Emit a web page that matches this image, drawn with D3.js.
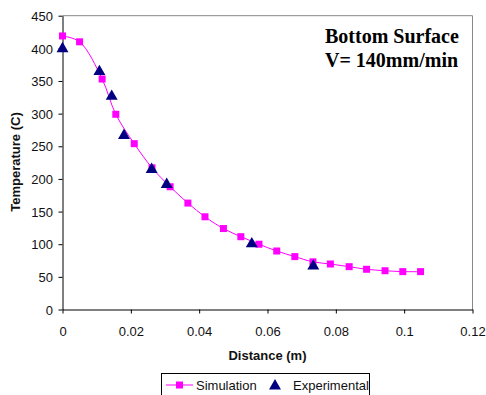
<!DOCTYPE html>
<html><head><meta charset="utf-8">
<script src="https://cdn.jsdelivr.net/npm/d3@7"></script>
<style>body{margin:0;background:#fff}svg{display:block}</style>
</head><body><svg id="c" width="486" height="395"></svg>
<script>
const simX = [0, 0.0050, 0.0116, 0.0156, 0.0210, 0.0262, 0.0315, 0.0367, 0.0417, 0.0471, 0.0522, 0.0575, 0.0627, 0.0680, 0.0733, 0.0784, 0.0839, 0.0890, 0.0944, 0.0996, 0.1048];
const simY = [419, 410, 353, 299, 254, 217, 188, 163, 142, 124, 111.5, 100, 89.6, 81, 73, 69.7, 65.6, 61.6, 59.4, 58, 58];
const expX = [0, 0.0108, 0.0144, 0.0180, 0.0261, 0.0305, 0.0554, 0.0734];
const expY = [401, 366, 328, 268, 216, 193, 102, 68];
const xTicks = [0, 0.02, 0.04, 0.06, 0.08, 0.1, 0.12];
const yTicks = [0, 50, 100, 150, 200, 250, 300, 350, 400, 450];
const seriesNames = ["Simulation", "Experimental"];

const svg = d3.select("#c");
const L = 62.5, R = 472.5, T = 15.7, B = 309.5;
const x = d3.scaleLinear().domain([0, 0.12]).range([L, R]);
const y = d3.scaleLinear().domain([0, 450]).range([B, T]);
const font = "Arial, 'Liberation Sans', sans-serif";

// border top/right
svg.append("path").attr("d", `M${L},${T}H${R}V${B}`).attr("fill", "none").attr("stroke", "#888").attr("stroke-width", 1);

const xa = svg.append("g").attr("transform", `translate(0,${B})`)
  .call(d3.axisBottom(x).tickValues(xTicks).tickSize(4).tickSizeOuter(0).tickFormat(d => d3.format("")(+d.toFixed(2))));
const ya = svg.append("g").attr("transform", `translate(${L},0)`)
  .call(d3.axisLeft(y).tickValues(yTicks).tickSize(4).tickSizeOuter(0));
[xa, ya].forEach(a => {
  a.select(".domain").attr("stroke", "#000");
  a.selectAll(".tick line").attr("stroke", "#000");
  a.selectAll("text").attr("font-family", font).attr("font-size", 13).attr("fill", "#111");
});
xa.selectAll("text").attr("dy", null).attr("y", 26);
ya.selectAll("text").attr("x", -9.5).attr("dy", "0.36em");

// smooth line
const simData = simX.map((d, i) => [d, simY[i]]);
const expData = expX.map((d, i) => [d, expY[i]]);
svg.append("path").datum(simData)
  .attr("d", d3.line().x(d => x(d[0])).y(d => y(d[1])).curve(d3.curveCatmullRom.alpha(0.5)))
  .attr("fill", "none").attr("stroke", "#ff00ff").attr("stroke-width", 1);
svg.append("g").selectAll("rect").data(simData).join("rect")
  .attr("x", d => x(d[0]) - 3.5).attr("y", d => y(d[1]) - 3.5)
  .attr("width", 7).attr("height", 7).attr("fill", "#ff00ff");
const tri = d3.symbol().type(d3.symbolTriangle).size(62);
svg.append("g").selectAll("path").data(expData).join("path")
  .attr("transform", d => `translate(${x(d[0])},${y(d[1]) + 1})`)
  .attr("d", tri).attr("fill", "#000080");

// axis titles
svg.append("text").attr("x", 267.5).attr("y", 360).attr("text-anchor", "middle")
  .attr("font-family", font).attr("font-size", 13).attr("font-weight", "bold").attr("fill", "#111").text("Distance (m)");
svg.append("text").attr("transform", "translate(20,162) rotate(-90)").attr("text-anchor", "middle")
  .attr("font-family", font).attr("font-size", 13).attr("font-weight", "bold").attr("fill", "#111").text("Temperature (C)");

// annotation
const serif = "'Times New Roman', 'Liberation Serif', serif";
svg.append("text").attr("x", 325).attr("y", 43).attr("font-family", serif).attr("font-size", 20).attr("font-weight", "bold").text("Bottom Surface");
svg.append("text").attr("x", 325).attr("y", 67).attr("font-family", serif).attr("font-size", 20).attr("font-weight", "bold").text("V= 140mm/min");

// legend
const lg = svg.append("g");
lg.append("rect").attr("x", 161.5).attr("y", 373.5).attr("width", 208).attr("height", 30).attr("fill", "#fff").attr("stroke", "#000");
lg.append("line").attr("x1", 166).attr("x2", 193).attr("y1", 385).attr("y2", 385).attr("stroke", "#ff00ff");
lg.append("rect").attr("x", 176).attr("y", 381.5).attr("width", 7).attr("height", 7).attr("fill", "#ff00ff");
lg.append("text").attr("x", 196).attr("y", 389.5).attr("font-family", font).attr("font-size", 13).attr("fill", "#111").text(seriesNames[0]);
lg.append("path").attr("transform", "translate(275,386)").attr("d", tri).attr("fill", "#000080");
lg.append("text").attr("x", 293).attr("y", 389.5).attr("font-family", font).attr("font-size", 13).attr("fill", "#111").text(seriesNames[1]);
</script></body></html>
